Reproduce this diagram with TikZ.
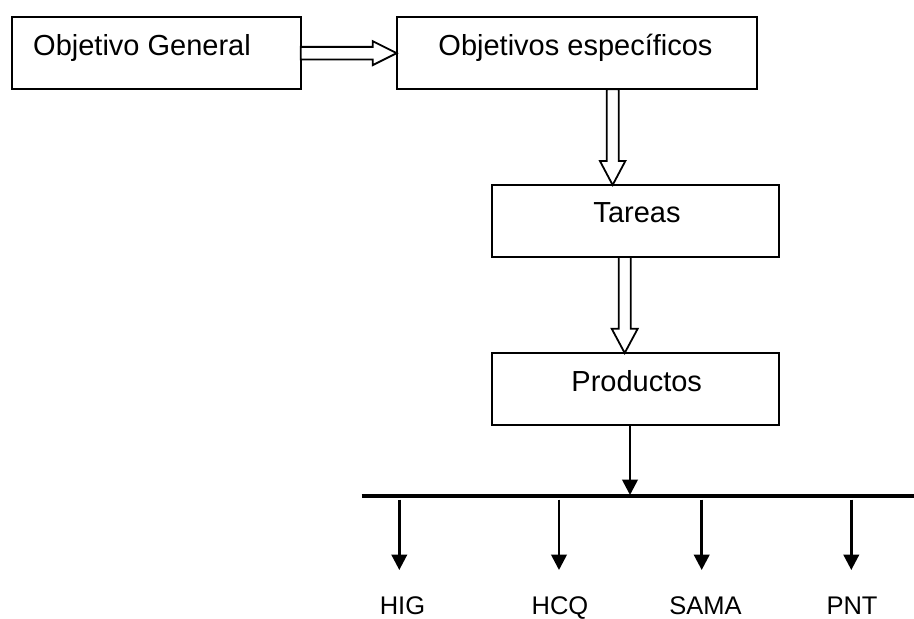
\documentclass[tikz,border=0pt]{standalone}
\usepackage{fontspec}
\setmainfont{Liberation Sans}
\usetikzlibrary{arrows.meta,calc}
\begin{document}
\begin{tikzpicture}[x=1pt,y=-1pt,
  box/.style={draw=black,line width=2pt,fill=white,inner sep=0pt,outer sep=0pt},
  boxtext/.style={font=\fontsize{29}{34}\selectfont,anchor=base,inner sep=0pt},
  lbl/.style={font=\fontsize{25.5}{30}\selectfont,anchor=base,inner sep=0pt},
  hollow/.style={draw=black,line width=1.8pt,fill=white,line join=miter},
  bus/.style={line width=3.3pt},
  solidarrow/.style={line width=2.7pt,-{Triangle[length=15.5pt,width=15.5pt]}}
]
\useasboundingbox (0,0) rectangle (914,619);

% boxes
\node[box,minimum width=288.7pt,minimum height=72.3pt] (og) at (156.35,53.15) {};
\node[box,minimum width=360.3pt,minimum height=72.3pt] (oe) at (576.85,53.15) {};
\node[box,minimum width=287pt,minimum height=72pt] (ta) at (635.5,221) {};
\node[box,minimum width=287pt,minimum height=72pt] (pr) at (635.5,389) {};

% box texts
\node[boxtext,anchor=base west] (togl) at (33,55) {Objetivo General};
\node[boxtext] (toel) at (575.5,55) {Objetivos específicos};
\node[boxtext] (tal) at (637,222.7) {Tareas};
\node[boxtext] (prl) at (636.7,391.7) {Productos};

% hollow arrow: Objetivo General -> Objetivos especificos
\draw[hollow] ($(og.east)+(0,-6.3)$) -- ($(oe.west)+(-24,-6.3)$) -- ($(oe.west)+(-24,-12)$)
  -- (oe.west) -- ($(oe.west)+(-24,12)$) -- ($(oe.west)+(-24,6.3)$) -- ($(og.east)+(0,6.3)$) -- cycle;

% hollow arrow: Objetivos especificos -> Tareas
\path ($(oe.south)+(35.8,0)$) coordinate (v1s);
\path (v1s |- ta.north) coordinate (v1t);
\draw[hollow] ($(v1s)+(-6,0)$) -- ($(v1t)+(-6,-24)$) -- ($(v1t)+(-12.7,-24)$) -- (v1t)
  -- ($(v1t)+(12.7,-24)$) -- ($(v1t)+(6,-24)$) -- ($(v1s)+(6,0)$) -- cycle;

% hollow arrow: Tareas -> Productos
\path ($(ta.south)+(-10.8,0)$) coordinate (v2s);
\path (v2s |- pr.north) coordinate (v2t);
\draw[hollow] ($(v2s)+(-6,0)$) -- ($(v2t)+(-6,-24.3)$) -- ($(v2t)+(-13,-24.3)$) -- (v2t)
  -- ($(v2t)+(13,-24.3)$) -- ($(v2t)+(6,-24.3)$) -- ($(v2s)+(6,0)$) -- cycle;

% bus
\coordinate (busL) at (361.7,496);
\coordinate (busR) at (914,496);
\draw[bus] (busL) -- (busR);

% Productos -> bus
\path ($(pr.south)+(-5.5,0)$) coordinate (ps);
\path (ps |- busL) coordinate (pt);
\draw[solidarrow] (ps) -- ($(pt)+(0,-1)$);

% down arrows and labels
\coordinate (s1) at (399.3,499.5); \coordinate (e1) at (399.3,570);
\coordinate (s2) at (559,499.5);   \coordinate (e2) at (559,570);
\coordinate (s3) at (701.7,499.5); \coordinate (e3) at (701.7,570);
\coordinate (s4) at (851.3,499.5); \coordinate (e4) at (851.3,570);
\draw[solidarrow] (s1) -- (e1);
\draw[solidarrow] (s2) -- (e2);
\draw[solidarrow] (s3) -- (e3);
\draw[solidarrow] (s4) -- (e4);

\node[lbl] (hig) at (402.5,614.5) {HIG};
\node[lbl] (hcq) at (560,614.5) {HCQ};
\node[lbl] (sama) at (705.5,614.5) {SAMA};
\node[lbl] (pnt) at (852,614.5) {PNT};
\end{tikzpicture}
\end{document}
